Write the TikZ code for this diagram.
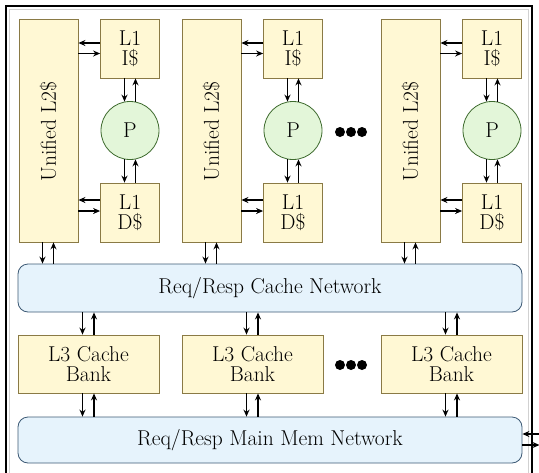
\documentclass[tikz,border=0pt]{standalone}
\usepackage{fontspec}
\setmainfont{Latin Modern Roman}
\usetikzlibrary{arrows.meta,calc}
\definecolor{cachefill}{HTML}{FFF8D4}
\definecolor{cacheline}{HTML}{8A7A45}
\definecolor{procfill}{HTML}{E3F6D9}
\definecolor{procline}{HTML}{3E6B2E}
\definecolor{netfill}{HTML}{E6F3FC}
\definecolor{netline}{HTML}{3D5A75}
\begin{document}
\begin{tikzpicture}[x=1pt,y=-1pt,
  every node/.style={font=\fontsize{21.5}{20.5}\selectfont, align=center},
  cachebox/.style={draw=cacheline, fill=cachefill, line width=0.8pt, inner sep=0pt},
  proc/.style={circle, draw=procline, fill=procfill, line width=0.8pt, inner sep=0pt, minimum size=58pt},
  netbox/.style={draw=netline, fill=netfill, line width=0.8pt, rounded corners=10pt, inner sep=0pt},
  arr/.style={line width=1.2pt, -{Stealth[length=7pt,width=6pt]}},
  dot/.style={circle, fill=black, inner sep=0pt, minimum size=10pt}]
\useasboundingbox (0,0) rectangle (539,472);
\clip (0,0) rectangle (539,472);

% outer frame (runs past the bottom edge)
\draw[line width=2.4pt] (6,480) -- (6,6) -- (532,6) -- (532,480);
\draw[line width=0.5pt, black!18] (9.5,480) -- (9.5,9.5) -- (528.5,9.5) -- (528.5,480);

% processor tiles: unified L2, L1 I$, processor, L1 D$
\foreach \c/\x in {1/48.5, 2/211.5, 3/410.5} {
  \node[cachebox, minimum width=59pt, minimum height=223pt] (l2-\c) at (\x,130.5) {};
  \node[rotate=90] (l2t-\c) at (\x,131.5) {Unified L2\$};
  \node[cachebox, minimum width=59pt, minimum height=59pt] (ic-\c) at (\x+81.5,48.5) {L1\\I\$};
  \node[proc] (p-\c) at (\x+81.5,130.5) {P};
  \node[cachebox, minimum width=59pt, minimum height=59pt] (dc-\c) at (\x+81.5,212.5) {L1\\D\$};
}

% shared networks and L3 banks
\node[netbox, minimum width=504pt, minimum height=48pt] (cnet) at (270,288) {Req/Resp Cache Network};
\node[cachebox, minimum width=141pt, minimum height=58pt] (b-1) at (88.5,364) {L3 Cache\\Bank};
\node[cachebox, minimum width=141pt, minimum height=58pt] (b-2) at (252.5,364) {L3 Cache\\Bank};
\node[cachebox, minimum width=141pt, minimum height=58pt] (b-3) at (451.5,364) {L3 Cache\\Bank};
\node[netbox, minimum width=504pt, minimum height=46pt] (mnet) at (270,440) {Req/Resp Main Mem Network};

% ellipses
\foreach \i/\x in {1/340, 2/351, 3/362} {
  \node[dot] (dt-\i) at (\x,132) {};
  \node[dot] (db-\i) at (\x,365) {};
}

% links inside each tile
\foreach \c in {1,2,3} {
  % L1 I$ <-> L2
  \draw[arr] ($(ic-\c.west)+(0,-5.5)$) -- ($(ic-\c.west -| l2-\c.east)+(0,-5.5)$);
  \draw[arr] ($(ic-\c.west -| l2-\c.east)+(0,5)$) -- ($(ic-\c.west)+(0,5)$);
  % L1 D$ <-> L2
  \draw[arr] ($(dc-\c.west)+(0,-12.5)$) -- ($(dc-\c.west -| l2-\c.east)+(0,-12.5)$);
  \draw[arr] ($(dc-\c.west -| l2-\c.east)+(0,-1.5)$) -- ($(dc-\c.west)+(0,-1.5)$);
  % L1 I$ <-> P
  \draw[arr] ($(ic-\c.south)+(-5.5,0)$) -- ($(p-\c.north)+(-5.5,0.5)$);
  \draw[arr] ($(p-\c.north)+(5.5,0.5)$) -- ($(ic-\c.south)+(5.5,0)$);
  % P <-> L1 D$
  \draw[arr] ($(p-\c.south)+(-5.5,-0.5)$) -- ($(dc-\c.north)+(-5.5,0)$);
  \draw[arr] ($(dc-\c.north)+(5.5,0)$) -- ($(p-\c.south)+(5.5,-0.5)$);
  % L2 <-> cache network
  \draw[arr] ($(l2-\c.south)+(-6,0)$) -- ($(l2-\c.south |- cnet.north)+(-6,0)$);
  \draw[arr] ($(l2-\c.south |- cnet.north)+(5,0)$) -- ($(l2-\c.south)+(5,0)$);
}

% cache network <-> L3 banks <-> memory network
\foreach \c in {1,2,3} {
  \draw[arr] ($(b-\c.north |- cnet.south)+(-6,0)$) -- ($(b-\c.north)+(-6,0)$);
  \draw[arr] ($(b-\c.north)+(5.5,0)$) -- ($(b-\c.north |- cnet.south)+(5.5,0)$);
  \draw[arr] ($(b-\c.south)+(-6,0)$) -- ($(b-\c.south |- mnet.north)+(-6,0)$);
  \draw[arr] ($(b-\c.south |- mnet.north)+(5.5,0)$) -- ($(b-\c.south)+(5.5,0)$);
}

% off-chip links from the memory network
\coordinate (offin) at (545,434);
\coordinate (offout) at (539.5,445);
\draw[arr] (offin) -- (offin -| mnet.east);
\draw[arr] (offout -| mnet.east) -- (offout);
\end{tikzpicture}
\end{document}
